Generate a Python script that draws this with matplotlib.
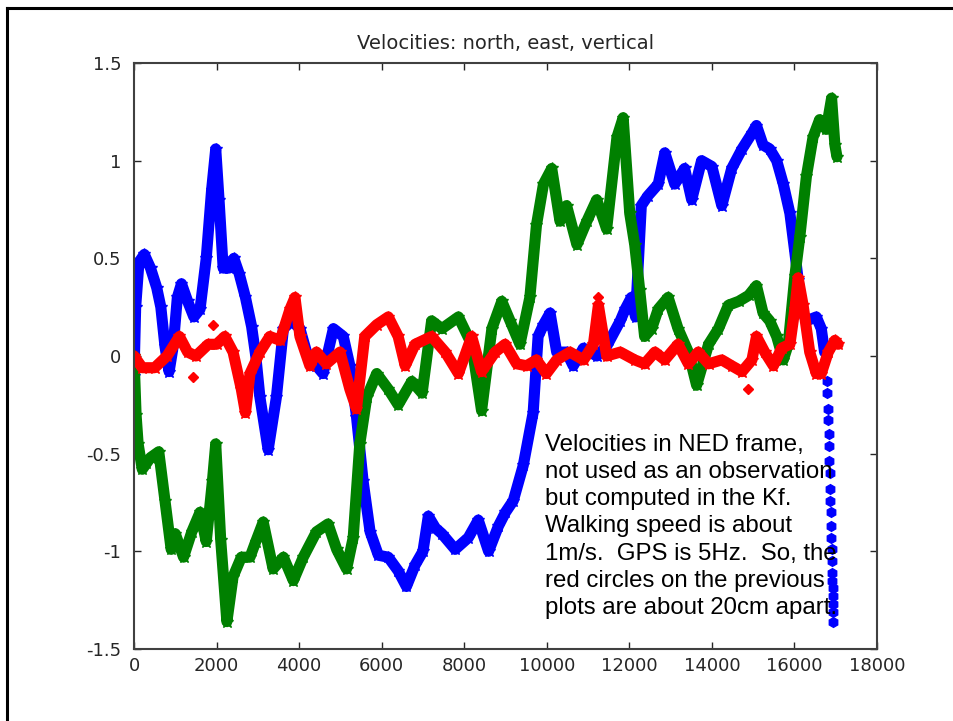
import matplotlib
matplotlib.use('Agg')
import matplotlib.pyplot as plt
from matplotlib.lines import Line2D

# north velocity (blue)
north_x = [0, 40, 120, 250, 400, 550, 650, 750, 850, 950, 1050, 1150, 1300, 1450, 1600,
           1750, 1880, 1980, 2060, 2160, 2300, 2420, 2550, 2700, 2850, 2950, 3050, 3250,
           3450, 3620, 3820, 4020, 4180, 4420, 4580, 4830, 5070, 5230, 5390, 5550, 5720,
           5920, 6160, 6400, 6600, 6810, 7000, 7130, 7300, 7460, 7780, 8100, 8340, 8590,
           8830, 9000, 9190, 9430, 9670, 9790, 9920, 10080, 10240, 10480, 10640, 10890,
           11210, 11450, 11780, 11900, 12050, 12150, 12290, 12450, 12700, 12860, 13100,
           13340, 13510, 13750, 14000, 14240, 14480, 14730, 14970, 15080, 15240, 15400,
           15570, 15730, 15890, 16010, 16090, 16170, 16290, 16530, 16650, 16730]
north_v = [-0.1, 0.25, 0.48, 0.52, 0.45, 0.35, 0.25, 0.05, -0.08, 0.05, 0.3, 0.37, 0.28,
           0.2, 0.24, 0.5, 0.85, 1.06, 0.8, 0.45, 0.45, 0.5, 0.42, 0.3, 0.15, 0.0, -0.21,
           -0.48, -0.21, 0.14, 0.18, 0.14, 0.02, -0.05, -0.09, 0.14, 0.1, -0.05, -0.31,
           -0.64, -0.9, -1.02, -1.03, -1.1, -1.18, -1.07, -1.0, -0.82, -0.88, -0.91,
           -0.99, -0.93, -0.84, -1.0, -0.87, -0.8, -0.74, -0.56, -0.29, 0.1, 0.16, 0.22,
           0.02, 0.02, -0.05, 0.04, 0.0, 0.05, 0.18, 0.24, 0.3, 0.2, 0.77, 0.82, 0.88,
           1.04, 0.88, 0.96, 0.8, 1.0, 0.97, 0.77, 0.96, 1.06, 1.14, 1.18, 1.08, 1.06,
           1.0, 0.88, 0.73, 0.53, 0.39, 0.24, 0.18, 0.2, 0.14, 0.02]
# sparse samples at the end where the north velocity drops fast
tail_x = [16790, 16800, 16810, 16820, 16830, 16840, 16848, 16856, 16864, 16872, 16880,
          16888, 16895, 16902, 16908, 16914, 16919, 16924, 16929, 16933, 16937, 16940]
tail_v = [-0.13, -0.19, -0.27, -0.33, -0.40, -0.46, -0.54, -0.60, -0.68, -0.74, -0.80,
          -0.87, -0.93, -0.99, -1.05, -1.11, -1.15, -1.19, -1.23, -1.27, -1.31, -1.36]

# east velocity (green)
east_x = [0, 50, 100, 200, 300, 400, 600, 750, 900, 1000, 1200, 1400, 1600, 1750, 1900,
          1980, 2100, 2250, 2400, 2600, 2810, 2950, 3130, 3370, 3620, 3860, 4100, 4420,
          4700, 4910, 5150, 5310, 5470, 5640, 5880, 6160, 6400, 6730, 6980, 7210, 7460,
          7860, 8180, 8420, 8670, 8910, 9110, 9350, 9590, 9750, 9920, 10120, 10320,
          10480, 10730, 10970, 11210, 11450, 11700, 11850, 12010, 12130, 12250, 12370,
          12540, 12700, 12940, 13180, 13430, 13630, 13920, 14160, 14400, 14650, 14890,
          15080, 15240, 15400, 15570, 15730, 15850, 16010, 16130, 16290, 16450, 16610,
          16770, 16900, 16980, 17030]
east_v = [0.0, -0.3, -0.45, -0.58, -0.55, -0.52, -0.49, -0.74, -0.99, -0.91, -1.03, -0.9,
          -0.8, -0.95, -0.64, -0.45, -0.94, -1.36, -1.13, -1.03, -1.03, -0.95, -0.85,
          -1.09, -1.03, -1.15, -1.03, -0.9, -0.86, -0.99, -1.09, -0.93, -0.45, -0.21,
          -0.09, -0.17, -0.25, -0.13, -0.19, 0.18, 0.14, 0.2, 0.06, -0.28, 0.14, 0.28,
          0.18, 0.06, 0.3, 0.67, 0.88, 0.96, 0.69, 0.77, 0.57, 0.69, 0.8, 0.65, 1.12,
          1.22, 0.73, 0.57, 0.34, 0.1, 0.14, 0.24, 0.3, 0.14, 0.02, -0.15, 0.06, 0.14,
          0.26, 0.28, 0.31, 0.36, 0.22, 0.18, 0.1, -0.02, 0.06, 0.41, 0.61, 0.92, 1.12,
          1.21, 1.16, 1.32, 1.08, 1.02]

# vertical velocity (red)
vert_x = [0, 200, 500, 800, 1100, 1300, 1500, 1800, 2000, 2200, 2400, 2600, 2700, 2810,
          3050, 3290, 3540, 3780, 3900, 4020, 4260, 4420, 4660, 4990, 5230, 5390, 5590,
          5880, 6160, 6400, 6570, 6810, 7210, 7540, 7860, 8180, 8420, 8750, 8990, 9270,
          9510, 9750, 9990, 10240, 10560, 10890, 11130, 11250, 11450, 11780, 12130,
          12370, 12620, 12860, 13180, 13430, 13670, 13920, 14240, 14480, 14730, 14970,
          15080, 15280, 15490, 15690, 15890, 16010, 16090, 16210, 16370, 16530, 16650,
          16820, 16980, 17060]
vert_v = [0.0, -0.06, -0.06, 0.0, 0.1, 0.02, 0.0, 0.06, 0.06, 0.1, 0.02, -0.17, -0.29,
          -0.09, 0.02, 0.1, 0.08, 0.24, 0.3, 0.1, -0.05, 0.02, -0.04, 0.02, -0.17, -0.27,
          0.1, 0.16, 0.2, 0.1, -0.05, 0.06, 0.1, 0.02, -0.09, 0.1, -0.08, 0.02, 0.06,
          -0.04, -0.05, -0.02, -0.09, -0.02, 0.02, -0.02, 0.06, 0.26, 0.0, 0.02, -0.02,
          -0.04, 0.02, -0.02, 0.06, -0.04, 0.02, -0.04, -0.02, -0.05, -0.08, -0.02, 0.1,
          0.02, -0.05, 0.04, 0.06, 0.24, 0.4, 0.26, 0.02, -0.09, -0.09, 0.02, 0.08, 0.06]
# a few isolated vertical-velocity samples
vert_out_x = [1430, 1914, 11240, 14870]
vert_out_v = [-0.11, 0.16, 0.3, -0.17]

x_ticks = [0, 2000, 4000, 6000, 8000, 10000, 12000, 14000, 16000, 18000]
y_ticks = [-1.5, -1, -0.5, 0, 0.5, 1, 1.5]
y_tick_labels = ['-1.5', '-1', '-0.5', '0', '0.5', '1', '1.5']

note = ('Velocities in NED frame,\nnot used as an observation\nbut computed in the Kf.\n'
        'Walking speed is about\n1m/s.  GPS is 5Hz.  So, the\nred circles on the previous\n'
        'plots are about 20cm apart.')

fig = plt.figure(figsize=(9.54, 7.21), dpi=100)
ax = fig.add_axes([134 / 954, 1 - 649 / 721, 743 / 954, 586 / 721])

style = dict(linewidth=8, marker='*', markersize=9, solid_joinstyle='round',
             solid_capstyle='round')
ax.plot(north_x, north_v, color=(0, 0, 1), **style)
ax.plot(tail_x, tail_v, color=(0, 0, 1), linestyle='none', marker='h', markersize=7)
ax.plot(east_x, east_v, color=(0, 0.5, 0), **style)
ax.plot(vert_x, vert_v, color=(1, 0, 0), **style)
ax.plot(vert_out_x, vert_out_v, color=(1, 0, 0), linestyle='none', marker='D', markersize=5)

ax.set_xlim(0, 18000)
ax.set_ylim(-1.5, 1.5)
ax.set_xticks(x_ticks)
ax.set_xticklabels([str(t) for t in x_ticks])
ax.set_yticks(y_ticks)
ax.set_yticklabels(y_tick_labels)
ax.tick_params(direction='in', length=5, width=1, colors='#262626', labelsize=13,
               top=True, right=True)
ax.tick_params(axis='y', pad=9)
ax.tick_params(axis='x', pad=6)
for s in ax.spines.values():
    s.set_color('#404040')
    s.set_linewidth(1.5)
ax.set_title('Velocities: north, east, vertical', fontsize=14, color='#262626', pad=10)

ax.text(9960, -0.4, note, family='Liberation Sans', fontsize=17.3, va='top', ha='left',
        linespacing=1.3, color='black')

# figure frame (left and top edges of the window)
fig.add_artist(Line2D([7 / 954, 7 / 954], [0, 1 - 8 / 721], color='black', linewidth=2.2))
fig.add_artist(Line2D([7 / 954, 1], [1 - 8 / 721, 1 - 8 / 721], color='black', linewidth=2.2))

fig.savefig('out.png', dpi=100)
